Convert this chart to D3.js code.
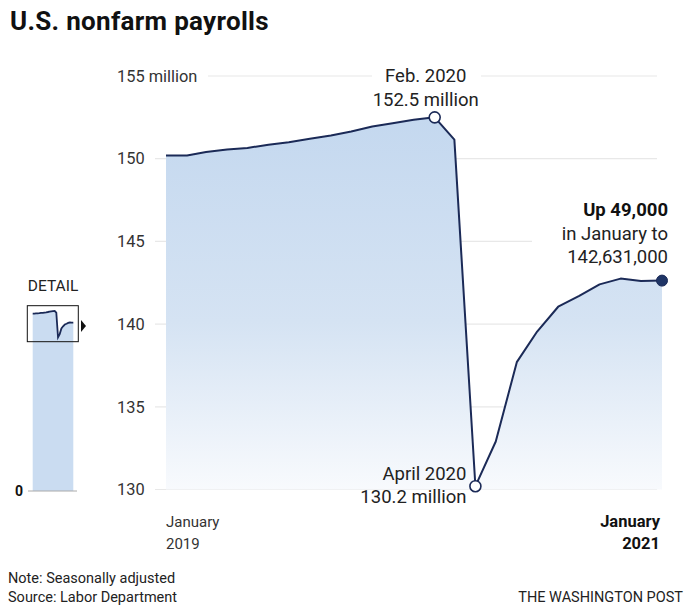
<!DOCTYPE html>
<html>
<head>
<meta charset="utf-8">
<script src="https://cdn.jsdelivr.net/npm/d3@7"></script>
<style>
    body {
        margin: 0;
        background: #fff;
    }
    svg {
        display: block;
        font-family: Roboto, "Open Sans", sans-serif;
    }
    .tick-label {
        font-size: 16.4px;
        fill: #333;
    }
    .note {
        font-size: 14.5px;
        fill: #222;
    }
    .anno {
        font-size: 18.5px;
        fill: #222;
    }
</style>
</head>
<body>
<svg id="chart" width="691" height="614"></svg>

<script>
    // months from January 2019 to January 2021
    const months = d3.range(25).map(i => new Date(2019, i, 1));

    // nonfarm payrolls, millions
    const payrolls = [
        150.2, 150.2, 150.4, 150.55, 150.65, 150.85, 151.0, 151.2, 151.4, 151.65, 151.95, 152.15,
        152.35, 152.5, 151.15, 130.2, 132.9, 137.7, 139.55, 141.05, 141.7, 142.4, 142.75, 142.6,
        142.63
    ];

    const yTicks = [155, 150, 145, 140, 135, 130];
    const yTickLabels = ["155 million", "150", "145", "140", "135", "130"];
    const xTickLabels = [["January", "2019"], ["January", "2021"]];

    const feb2020 = {index: 13, lines: ["Feb. 2020", "152.5 million"]};
    const apr2020 = {index: 15, lines: ["April 2020", "130.2 million"]};
    const jan2021 = {index: 24, lines: ["Up 49,000", "in January to", "142,631,000"]};

    // range shown inside the detail box of the zero-based inset
    const detailRange = [126.5, 157];

    const data = months.map((date, i) => ({date, value: payrolls[i]}));

    const svg = d3.select("#chart");

    const x = d3.scaleTime()
        .domain(d3.extent(months))
        .range([166, 662]);

    const y = d3.scaleLinear()
        .domain([130, 155])
        .range([489.5, 76]);

    // gradient for the area
    const defs = svg.append("defs");
    const grad = defs.append("linearGradient")
        .attr("id", "areaGrad")
        .attr("gradientUnits", "userSpaceOnUse")
        .attr("x1", 0).attr("x2", 0)
        .attr("y1", y(152.5)).attr("y2", y(130));
    grad.append("stop").attr("offset", "0%").attr("stop-color", "#c4d8ef");
    grad.append("stop").attr("offset", "55%").attr("stop-color", "#d5e3f3");
    grad.append("stop").attr("offset", "100%").attr("stop-color", "#f8fafd");

    // title
    svg.append("text")
        .attr("x", 10)
        .attr("y", 30)
        .style("font-size", "26px")
        .style("font-weight", 700)
        .style("letter-spacing", "0.3px")
        .style("fill", "#111")
        .text("U.S. nonfarm payrolls");

    // gridlines, cut where annotations sit
    const gridGaps = {
        155: [[208, 372], [481, 657]],
        145: [[155, 532]]
    };
    const grid = svg.append("g");
    yTicks.forEach(t => {
        const segs = gridGaps[t] || [[155, 657]];
        segs.forEach(([a, b]) => {
            grid.append("line")
                .attr("x1", a).attr("x2", b)
                .attr("y1", y(t)).attr("y2", y(t))
                .attr("stroke", "#e8e8e8")
                .attr("stroke-width", 1.2);
        });
    });

    // y labels
    svg.append("g")
        .selectAll("text")
        .data(yTicks)
        .join("text")
        .attr("class", "tick-label")
        .attr("x", 117)
        .attr("y", d => y(d))
        .attr("dy", "0.35em")
        .text((d, i) => yTickLabels[i]);

    // area + line
    const area = d3.area()
        .x(d => x(d.date))
        .y0(y(130))
        .y1(d => y(d.value));

    const line = d3.line()
        .x(d => x(d.date))
        .y(d => y(d.value));

    svg.append("path")
        .datum(data)
        .attr("d", area)
        .attr("fill", "url(#areaGrad)");

    svg.append("path")
        .datum(data)
        .attr("d", line)
        .attr("fill", "none")
        .attr("stroke", "#1b2a57")
        .attr("stroke-width", 2)
        .attr("stroke-linejoin", "round");

    // markers
    [feb2020, apr2020].forEach(a => {
        svg.append("circle")
            .attr("cx", x(data[a.index].date))
            .attr("cy", y(data[a.index].value))
            .attr("r", 5.5)
            .attr("fill", "#fff")
            .attr("stroke", "#1b2a57")
            .attr("stroke-width", 1.6);
    });
    svg.append("circle")
        .attr("cx", x(data[jan2021.index].date))
        .attr("cy", y(data[jan2021.index].value))
        .attr("r", 5.5)
        .attr("fill", "#1f3566")
        .attr("stroke", "#1b2a57")
        .attr("stroke-width", 1);

    // annotations
    const febX = x(data[feb2020.index].date) - 9;
    svg.append("g")
        .selectAll("text")
        .data(feb2020.lines)
        .join("text")
        .attr("class", "anno")
        .attr("x", febX)
        .attr("y", (d, i) => 82 + i * 24)
        .attr("text-anchor", "middle")
        .text(d => d);

    const aprX = x(data[apr2020.index].date) - 9;
    svg.append("g")
        .selectAll("text")
        .data(apr2020.lines)
        .join("text")
        .attr("class", "anno")
        .attr("x", aprX)
        .attr("y", (d, i) => 480 + i * 23)
        .attr("text-anchor", "end")
        .text(d => d);

    svg.append("g")
        .selectAll("text")
        .data(jan2021.lines)
        .join("text")
        .attr("class", "anno")
        .attr("x", 668)
        .attr("y", (d, i) => 216 + i * 23.5)
        .attr("text-anchor", "end")
        .style("font-weight", (d, i) => i === 0 ? 700 : 400)
        .style("fill", (d, i) => i === 0 ? "#111" : "#222")
        .text(d => d);

    // x labels
    const xl = svg.append("g");
    xTickLabels.forEach((lines, i) => {
        const bold = i === 1;
        xl.selectAll(null)
            .data(lines)
            .join("text")
            .attr("class", "tick-label")
            .attr("x", bold ? 660 : x(months[0]))
            .attr("y", (d, j) => 527 + j * 22)
            .attr("text-anchor", bold ? "end" : "start")
            .style("font-size", bold ? "16.5px" : "15px")
            .style("font-weight", bold ? 700 : 400)
            .style("fill", bold ? "#111" : "#333")
            .text(d => d);
    });

    // detail inset (zero-based)
    const xMini = d3.scaleTime()
        .domain(d3.extent(months))
        .range([32.7, 73.3]);
    const yMini = d3.scaleLinear()
        .domain([0, 152.5])
        .range([491, 311]);

    const inset = svg.append("g");

    inset.append("text")
        .attr("x", 53)
        .attr("y", 291)
        .attr("text-anchor", "middle")
        .style("font-size", "15.5px")
        .style("fill", "#222")
        .text("DETAIL");

    inset.append("rect")
        .attr("x", xMini.range()[0])
        .attr("width", xMini.range()[1] - xMini.range()[0])
        .attr("y", yMini(detailRange[0]))
        .attr("height", yMini(0) - yMini(detailRange[0]))
        .attr("fill", "#cadcf1");

    inset.append("path")
        .datum(data)
        .attr("d", d3.area()
            .x(d => xMini(d.date))
            .y0(yMini(detailRange[0]))
            .y1(d => yMini(d.value)))
        .attr("fill", "#cadcf1");

    inset.append("line")
        .attr("x1", 28).attr("x2", 77)
        .attr("y1", yMini(0)).attr("y2", yMini(0))
        .attr("stroke", "#aaa")
        .attr("stroke-width", 1);

    inset.append("text")
        .attr("x", 15)
        .attr("y", yMini(0))
        .attr("dy", "0.35em")
        .style("font-size", "14px")
        .style("font-weight", 700)
        .style("fill", "#111")
        .text("0");

    inset.append("path")
        .datum(data)
        .attr("d", d3.line()
            .x(d => xMini(d.date))
            .y(d => yMini(d.value)))
        .attr("fill", "none")
        .attr("stroke", "#1b2a57")
        .attr("stroke-width", 1.8);

    inset.append("rect")
        .attr("x", 27.3)
        .attr("y", yMini(detailRange[1]))
        .attr("width", 51)
        .attr("height", yMini(detailRange[0]) - yMini(detailRange[1]))
        .attr("fill", "none")
        .attr("stroke", "#111")
        .attr("stroke-width", 1);

    inset.append("path")
        .attr("d", "M81,320L86,326L81,332Z")
        .attr("fill", "#111");

    // footer
    svg.append("text").attr("class", "note").attr("x", 8).attr("y", 583)
        .text("Note: Seasonally adjusted");
    svg.append("text").attr("class", "note").attr("x", 8).attr("y", 602)
        .text("Source: Labor Department");
    svg.append("text").attr("class", "note").attr("x", 683).attr("y", 602)
        .attr("text-anchor", "end")
        .text("THE WASHINGTON POST");
</script>
</body>
</html>
